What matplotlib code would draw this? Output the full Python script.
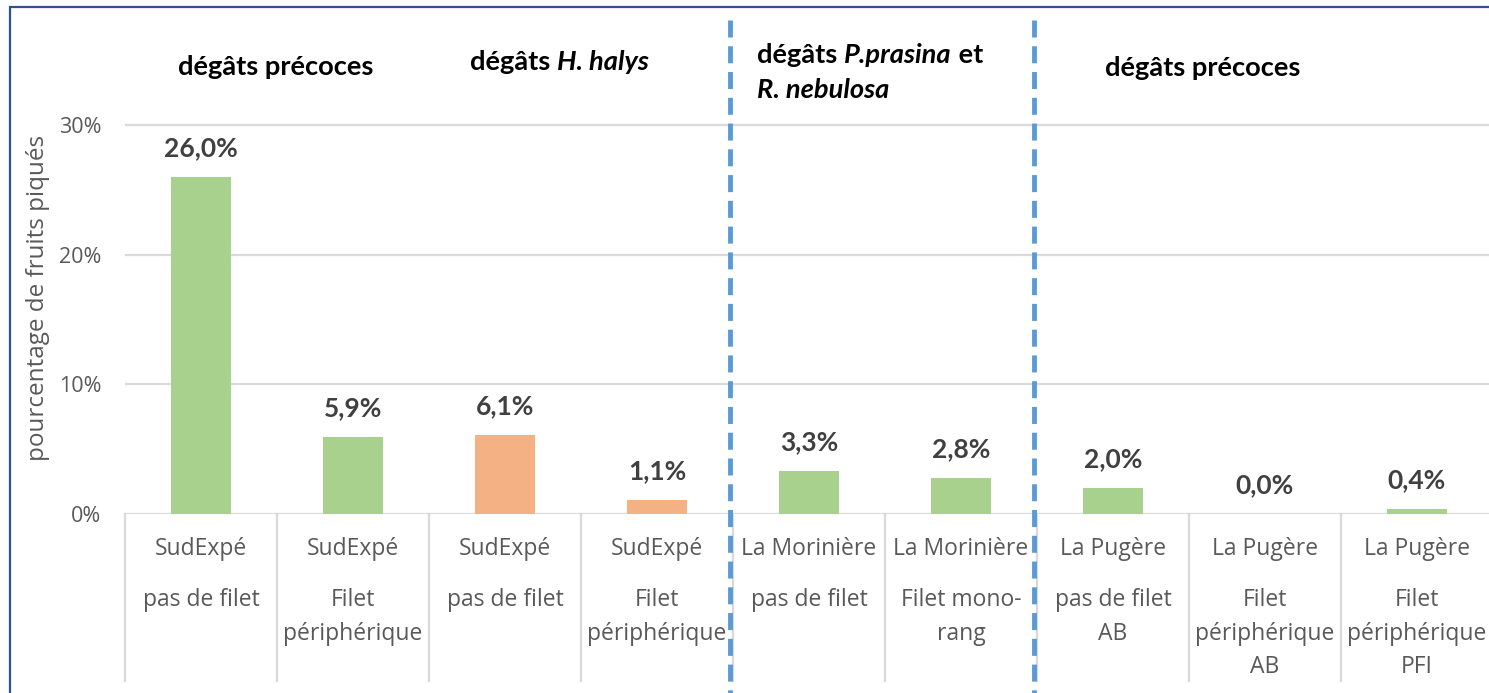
import numpy as np
import matplotlib
matplotlib.use("Agg")
from matplotlib import pyplot as plt
from matplotlib import transforms as mtransforms
from matplotlib.patches import Rectangle
from matplotlib.lines import Line2D

plt.rcParams['font.family'] = ['Lato', 'DejaVu Sans']

# data
sites = ["SudExpé", "SudExpé", "SudExpé", "SudExpé", "La Morinière", "La Morinière",
         "La Pugère", "La Pugère", "La Pugère"]
modalites = [["pas de filet"], ["Filet", "périphérique"], ["pas de filet"], ["Filet", "périphérique"],
             ["pas de filet"], ["Filet mono-", "rang"], ["pas de filet", "AB"],
             ["Filet", "périphérique", "AB"], ["Filet", "périphérique", "PFI"]]
values = [26.0, 5.9, 6.1, 1.1, 3.3, 2.8, 2.0, 0.0, 0.4]
ravageur = ["precoce", "precoce", "halys", "halys", "prasina", "prasina",
            "precoce", "precoce", "precoce"]
group_titles = [
    [[("dégâts précoces", "normal")]],
    [[("dégâts ", "normal"), ("H. halys", "italic")]],
    [[("dégâts ", "normal"), ("P.prasina", "italic"), (" et", "normal")],
     [("R. nebulosa", "italic")]],
    [[("dégâts précoces", "normal")]],
]
separators = [3.5, 5.5]

W, H = 1489, 693
colors = {"precoce": "#A9D18E", "prasina": "#A9D18E", "halys": "#F4B183"}
GRID = "#D9D9D9"
TXT = "#595959"
LABEL_FONT = ["Open Sans", "DejaVu Sans"]

fig = plt.figure(figsize=(W / 100, H / 100), dpi=100)
# axes: x from 125 px, 152 px per category ; y zero at 514 px, 10% = 129.7 px
ymax = 36
ax = fig.add_axes([125 / W, (H - 514) / H, 9 * 152 / W, ymax * 12.97 / H])
x = np.arange(len(values))
ax.bar(x, values, width=0.4, color=[colors[r] for r in ravageur], zorder=2)
ax.set_xlim(-0.5, len(values) - 0.5)
ax.set_ylim(0, ymax)
ax.set_yticks([0, 10, 20, 30])
ax.set_yticklabels(["0%", "10%", "20%", "30%"], family=LABEL_FONT)
ax.yaxis.grid(True, color=GRID, linewidth=1.6, zorder=0)
ax.tick_params(axis='y', length=0, pad=17, labelsize=15.5, labelcolor=TXT)
ax.set_xticks([])
for s in ax.spines.values():
    s.set_visible(False)
ax.set_ylabel("pourcentage de fruits piqués", fontsize=17.5, color=TXT, family=LABEL_FONT)
ax.yaxis.set_label_coords(-(125 - 50) / (9 * 152), 0.5 + (514 - 298 - ymax * 12.97 / 2) / (ymax * 12.97))

# data labels
for xi, v in zip(x, values):
    ax.annotate(f"{v:.1f}%".replace(".", ","), (xi, v), xytext=(0, 29), textcoords="offset pixels",
                ha="center", va="center", fontsize=19, fontweight="bold", color="#404040")

# category labels below the axis
bt = mtransforms.blended_transform_factory(ax.transData, fig.transFigure)
for b in np.arange(-0.5, len(values), 1.0):
    fig.add_artist(Line2D([b, b], [1 - 514 / H, 1 - 681 / H], transform=bt, color=GRID, linewidth=1.6))
for xi, site, lines in zip(x, sites, modalites):
    fig.text(xi, 1 - 549 / H, site, transform=bt, ha="center", va="center", fontsize=16.5,
             color=TXT, family=LABEL_FONT)
    for k, line in enumerate(lines):
        fig.text(xi, 1 - (600 + 33.5 * k) / H, line, transform=bt, ha="center", va="center",
                 fontsize=16.5, color=TXT, family=LABEL_FONT)

# dashed separators
for sx in separators:
    fig.add_artist(Line2D([sx - 0.02, sx - 0.02], [1 - 20 / H, 0], transform=bt, color="#5B9BD5",
                          linewidth=3.5, dashes=(3.5, 1.8)))

# group titles, made of bold pieces (some italic)
renderer = fig.canvas.get_renderer()
title_pos = [(178, [67]), (470, [62]), (757, [55, 90]), (1105, [68])]
for (x0, ys), title in zip(title_pos, group_titles):
    for yy, pieces in zip(ys, title):
        xp = x0
        for txt, style in pieces:
            t = fig.text(xp / W, 1 - yy / H, txt, ha="left", va="center", fontsize=19.6,
                         fontweight="bold", fontstyle=style, color="black")
            bb = t.get_window_extent(renderer)
            xp += bb.width

# outer frame
fig.add_artist(Rectangle((10 / W, -0.05), 1.1, 1 - 7 / H + 0.05, transform=fig.transFigure,
                         fill=False, edgecolor="#2F528F", linewidth=1.6))

fig.savefig("out.png", dpi=100)
